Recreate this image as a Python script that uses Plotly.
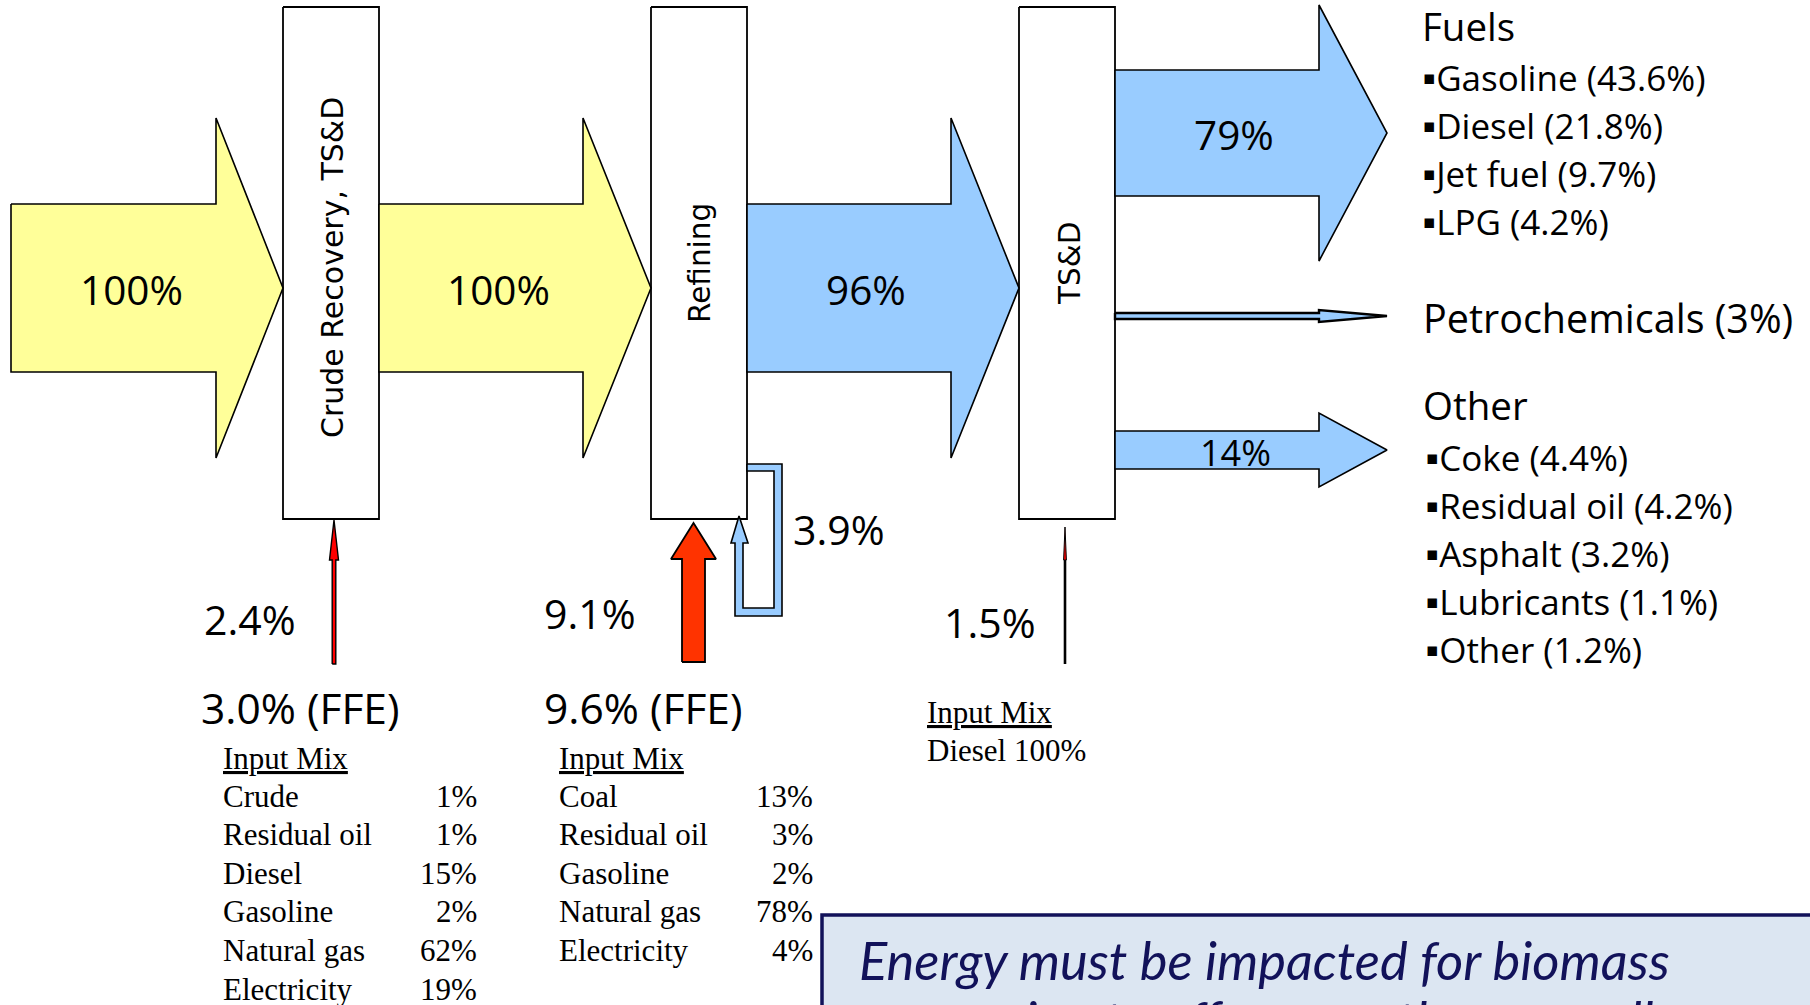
import plotly.graph_objects as go

W, H = 1810, 1005

# ---- values -------------------------------------------------------------
stage_names = ["Crude Recovery, TS&D", "Refining", "TS&D"]
main_flow_pct = [100, 100, 96]          # crude in, crude to refinery, products out
product_groups = ["Fuels", "Petrochemicals", "Other"]
product_pct = [79, 3, 14]
process_energy_pct = [2.4, 9.1, 1.5]    # process energy per stage
ffe_pct = [3.0, 9.6]                    # fossil fuel equivalent
recycle_pct = 3.9                       # refinery self-use loop

fuel_items = ["Gasoline", "Diesel", "Jet fuel", "LPG"]
fuel_pct = [43.6, 21.8, 9.7, 4.2]
other_items = ["Coke", "Residual oil", "Asphalt", "Lubricants", "Other"]
other_pct = [4.4, 4.2, 3.2, 1.1, 1.2]

mix1_names = ["Crude", "Residual oil", "Diesel", "Gasoline", "Natural gas", "Electricity"]
mix1_pct = [1, 1, 15, 2, 62, 19]
mix2_names = ["Coal", "Residual oil", "Gasoline", "Natural gas", "Electricity"]
mix2_pct = [13, 3, 2, 78, 4]
mix3_names = ["Diesel"]
mix3_pct = [100]

note_lines = ["Energy must be impacted for biomass",
              "conversion to offer more than overall"]

# ---- styling ------------------------------------------------------------
YELLOW = "#ffff99"
BLUE = "#99ccff"
ORANGE_RED = "#ff3300"
RED = "#ff0000"
NAVY = "#12125a"
CAL = "Open Sans, Lato, sans-serif"
VERD = "DejaVu Sans, sans-serif"
TIMES = "Liberation Serif, serif"

fig = go.Figure()


def poly(xs, ys, fill, lw=1.6, lc="black"):
    fig.add_trace(go.Scatter(
        x=list(xs) + [xs[0]], y=list(ys) + [ys[0]], mode="lines",
        fill="toself", fillcolor=fill, line=dict(color=lc, width=lw),
        hoverinfo="skip", showlegend=False))


def right_arrow(x0, xh, xt, yc, bh, hh, fill, lw=1.6):
    xs = [x0, xh, xh, xt, xh, xh, x0]
    ys = [yc - bh, yc - bh, yc - hh, yc, yc + hh, yc + bh, yc + bh]
    poly(xs, ys, fill, lw)


def up_arrow(xc, y0, yh, yt, bh, hh, fill, lw=1.6):
    xs = [xc - bh, xc - bh, xc - hh, xc, xc + hh, xc + bh, xc + bh]
    ys = [y0, yh, yh, yt, yh, yh, y0]
    poly(xs, ys, fill, lw)


def box(x0, x1, y0, y1):
    poly([x0, x1, x1, x0], [y0, y0, y1, y1], "white", 1.8)


def pct(v, dec=None):
    return f"{v:.{dec}f}%" if dec is not None else f"{v:g}%"


# ---- stage boxes --------------------------------------------------------
box_x = [(283, 379), (651, 747), (1019, 1115)]
box_top, box_bot = 7, 519
for x0, x1 in box_x:
    box(x0, x1, box_top, box_bot)

# ---- main flow arrows ---------------------------------------------------
yc = 288
main_geom = [(11, 216, 283, YELLOW), (379, 583, 651, YELLOW), (747, 951, 1019, BLUE)]
for (x0, xh, xt, col) in main_geom:
    right_arrow(x0, xh, xt, yc, 84, 170, col)

# ---- product arrows -----------------------------------------------------
prod_geom = [(133, 63, 128, 1.6), (316, 3, 6, 2.4), (450, 19, 37, 1.6)]
for (yc_p, bh, hh, lw) in prod_geom:
    right_arrow(1115, 1319, 1387, yc_p, bh, hh, BLUE, lw)

# ---- refinery self-use loop ---------------------------------------------
loop_x = [747, 782, 782, 735, 735, 731, 739, 748, 743, 743, 774, 774, 747]
loop_y = [464, 464, 616, 616, 543, 543, 516, 543, 543, 608, 608, 471, 471]
poly(loop_x, loop_y, BLUE, 1.6)

# ---- process energy inputs ----------------------------------------------
up_arrow(334, 664, 560, 520, 1.8, 4.5, RED, 1.4)
up_arrow(693.5, 662, 559, 523, 11.5, 22.5, ORANGE_RED, 1.8)
fig.add_trace(go.Scatter(x=[1065, 1065], y=[664, 560], mode="lines",
                         line=dict(color="black", width=2.6),
                         hoverinfo="skip", showlegend=False))
up_arrow(1065, 560, 560, 527, 0.0, 1.4, RED, 1.0)

# ---- note box -----------------------------------------------------------
fig.add_shape(type="rect", x0=822, x1=1900, y0=915, y1=1100,
              fillcolor="#dce6f2", line=dict(color=NAVY, width=3.5), layer="below")

annotations = []


def ann(x, y, text, size, family=CAL, xa="center", ya="middle", angle=0, color="black"):
    annotations.append(dict(
        x=x, y=y, xref="x", yref="y", text=text, showarrow=False,
        xanchor=xa, yanchor=ya, textangle=angle,
        font=dict(size=size, family=family, color=color)))


# flow labels
ann(131, 289, pct(main_flow_pct[0]), 40.5)
ann(498, 289, pct(main_flow_pct[1]), 40.5)
ann(866, 289, pct(main_flow_pct[2]), 40.5)
ann(1234, 134, pct(product_pct[0]), 40.5)
ann(1235, 452, pct(product_pct[2]), 36)

# stage names
ann(332, 268, stage_names[0], 30, VERD, angle=-90)
ann(700, 263, stage_names[1], 29.5, VERD, angle=-90)
ann(1070, 264, stage_names[2], 29.5, VERD, angle=-90)

# process energy labels
ann(250, 619, pct(process_energy_pct[0]), 41)
ann(590, 613, pct(process_energy_pct[1]), 41)
ann(990, 622, pct(process_energy_pct[2]), 41)
ann(839, 529, pct(recycle_pct), 41)
ann(300, 707, pct(ffe_pct[0], 1) + " (FFE)", 42.5)
ann(643, 707, pct(ffe_pct[1], 1) + " (FFE)", 42.5)

# product lists
ann(1420, 26, product_groups[0], 38.5, xa="left")
for i, (n, v) in enumerate(zip(fuel_items, fuel_pct)):
    ann(1420, 77 + 48 * i, f"▪{n} ({v:g}%)", 35, xa="left")
ann(1421, 318, f"{product_groups[1]} ({product_pct[1]}%)", 39.5, xa="left")
ann(1421, 405, product_groups[2], 38.5, xa="left")
for i, (n, v) in enumerate(zip(other_items, other_pct)):
    ann(1423, 457 + 48 * i, f"▪{n} ({v:g}%)", 35, xa="left")

# input mix tables
row_h = 38.6
for left, right, names, vals in [(221, 479, mix1_names, mix1_pct),
                                 (557, 815, mix2_names, mix2_pct)]:
    ann(left, 758, "<u>Input Mix</u>", 31, TIMES, xa="left")
    for i, (n, v) in enumerate(zip(names, vals)):
        ann(left, 796 + row_h * i, n, 31, TIMES, xa="left")
        ann(right, 796 + row_h * i, f"{v}%", 31, TIMES, xa="right")
ann(925, 712, "<u>Input Mix</u>", 31, TIMES, xa="left")
ann(925, 750, f"{mix3_names[0]} {mix3_pct[0]}%", 31, TIMES, xa="left")

# note text
ann(857, 959, f"<i>{note_lines[0]}</i>", 52.5, "Lato, Open Sans, sans-serif",
    xa="left", color=NAVY)
ann(857, 986, f"<i>{note_lines[1]}</i>", 52.5, "Lato, Open Sans, sans-serif",
    xa="left", ya="top", color=NAVY)

fig.update_layout(
    width=W, height=H, margin=dict(l=0, r=0, t=0, b=0),
    paper_bgcolor="white", plot_bgcolor="white", showlegend=False,
    xaxis=dict(range=[0, W], visible=False, fixedrange=True),
    yaxis=dict(range=[H, 0], visible=False, fixedrange=True),
    annotations=annotations,
)

fig.write_html("out.html", post_script="document.body.style.margin='0';")
